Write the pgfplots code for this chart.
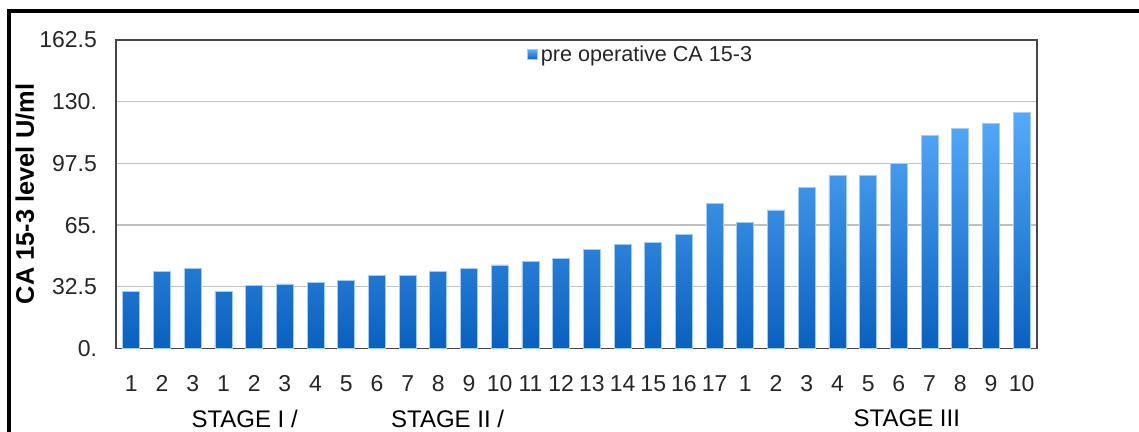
\documentclass[border=0pt]{standalone}
\usepackage{pgfplots}
\pgfplotsset{compat=1.18}
\usepackage{fontspec}
\setmainfont{Liberation Sans}

\definecolor{bartop}{RGB}{86,170,250}
\definecolor{barbot}{RGB}{10,96,190}
\definecolor{baredge}{RGB}{160,205,245}
\definecolor{gridgrey}{RGB}{192,192,192}
\definecolor{axisgrey}{RGB}{70,70,70}

\begin{document}
\begin{tikzpicture}
\useasboundingbox (0,0) rectangle (569.5pt,216pt);
% outer frame
\draw[line width=1.9pt,black] (4.65pt,-20pt) -- (4.65pt,210.35pt) -- (600pt,210.35pt);
\begin{axis}[
  at={(58pt,41.75pt)}, anchor=south west,
  scale only axis,
  width=460.5pt, height=154.25pt,
  xmin=0.5, xmax=30.5,
  ymin=0, ymax=162.5,
  ytick={0,32.5,65,97.5,130,162.5},
  yticklabels={0.,32.5,65.,97.5,130.,162.5},
  xtick={1,...,30},
  xticklabels={1,2,3,1,2,3,4,5,6,7,8,9,10,11,12,13,14,15,16,17,1,2,3,4,5,6,7,8,9,10},
  major tick length=0pt,
  ymajorgrids,
  major grid style={gridgrey, line width=0.6pt},
  axis line style={axisgrey, line width=0.8pt},
  tick label style={font=\fontsize{11.5}{13}\selectfont, text=black!85},
  /pgf/number format/assume math mode=true,
  yticklabel style={xshift=-6pt},
  xticklabel style={yshift=-10pt},
  clip=false,
  legend style={draw=none, fill=none, at={(rel axis cs:0.4463,0.995)}, anchor=north west,
    font=\fontsize{10.8}{12.5}\selectfont, inner sep=0pt, outer sep=0pt,
    text=black!85, nodes={inner xsep=1.5pt}},
  legend cell align=left,
]
\addplot[ybar, bar width=8.5pt, draw=baredge, line width=0.4pt,
  top color=bartop, bottom color=barbot, shading=axis,
  legend image code/.code={\fill[top color=bartop,bottom color=barbot] (0pt,-2.5pt) rectangle (5pt,2.5pt);}]
coordinates {
(1,30) (2,40.5) (3,42)
(4,30) (5,33) (6,34) (7,35) (8,36) (9,38.5) (10,38.5) (11,40.5) (12,42)
(13,44) (14,46) (15,47.5) (16,52) (17,55) (18,56) (19,60) (20,76.5)
(21,66.5) (22,73) (23,85) (24,91) (25,91) (26,97.5) (27,112) (28,116) (29,118.5) (30,124.5)
};
\addlegendentry{pre operative CA 15-3}
\node[font=\fontsize{12}{14}\selectfont] at (axis cs:4.69,0) [yshift=-35pt] {STAGE I /};
\node[font=\fontsize{12}{14}\selectfont] at (axis cs:11.3,0) [yshift=-35pt] {STAGE II /};
\node[font=\fontsize{12}{14}\selectfont] at (axis cs:26.26,0) [yshift=-35pt] {STAGE III};
\end{axis}
\node[rotate=90, font=\bfseries\fontsize{12.7}{14}\selectfont] at (12.5pt,119pt) {CA 15-3 level U/ml};
\end{tikzpicture}
\end{document}
